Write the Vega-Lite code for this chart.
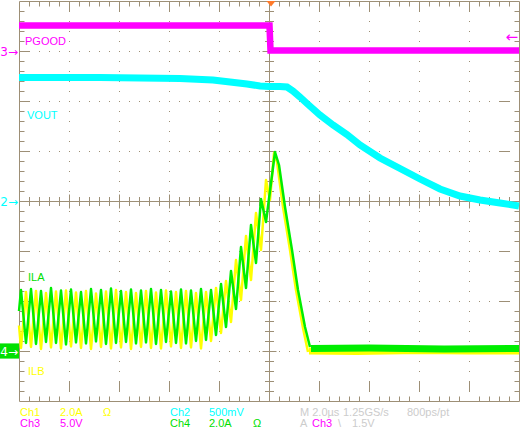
{
  "$schema": "https://vega.github.io/schema/vega-lite/v6.json",
  "width": 500,
  "height": 400,
  "autosize": {"type": "none"},
  "padding": {"left": 19, "top": 1, "right": 3, "bottom": 27},
  "background": "white",
  "config": {
    "view": {"stroke": null},
    "axis": {"gridColor": "#9D8F76", "gridOpacity": 1, "gridWidth": 1}
  },
  "datasets": {
    "ilb": [
      {"t": -10, "v": -2.49, "phase": "switching"},
      {"t": -9.92, "v": -2.94, "phase": "switching"},
      {"t": -9.72, "v": -1.82, "phase": "switching"},
      {"t": -9.52, "v": -2.92, "phase": "switching"},
      {"t": -9.32, "v": -1.80, "phase": "switching"},
      {"t": -9.12, "v": -2.96, "phase": "switching"},
      {"t": -8.92, "v": -1.84, "phase": "switching"},
      {"t": -8.72, "v": -2.93, "phase": "switching"},
      {"t": -8.52, "v": -1.81, "phase": "switching"},
      {"t": -8.32, "v": -2.95, "phase": "switching"},
      {"t": -8.12, "v": -1.79, "phase": "switching"},
      {"t": -7.92, "v": -2.91, "phase": "switching"},
      {"t": -7.72, "v": -1.83, "phase": "switching"},
      {"t": -7.52, "v": -2.94, "phase": "switching"},
      {"t": -7.32, "v": -1.80, "phase": "switching"},
      {"t": -7.12, "v": -2.96, "phase": "switching"},
      {"t": -6.92, "v": -1.85, "phase": "switching"},
      {"t": -6.72, "v": -2.92, "phase": "switching"},
      {"t": -6.52, "v": -1.81, "phase": "switching"},
      {"t": -6.32, "v": -2.95, "phase": "switching"},
      {"t": -6.12, "v": -1.78, "phase": "switching"},
      {"t": -5.92, "v": -2.93, "phase": "switching"},
      {"t": -5.72, "v": -1.82, "phase": "switching"},
      {"t": -5.52, "v": -2.96, "phase": "switching"},
      {"t": -5.32, "v": -1.84, "phase": "switching"},
      {"t": -5.12, "v": -2.92, "phase": "switching"},
      {"t": -4.92, "v": -1.80, "phase": "switching"},
      {"t": -4.72, "v": -2.94, "phase": "switching"},
      {"t": -4.52, "v": -1.83, "phase": "switching"},
      {"t": -4.32, "v": -2.95, "phase": "switching"},
      {"t": -4.12, "v": -1.79, "phase": "switching"},
      {"t": -3.92, "v": -2.91, "phase": "switching"},
      {"t": -3.72, "v": -1.82, "phase": "switching"},
      {"t": -3.52, "v": -2.94, "phase": "switching"},
      {"t": -3.32, "v": -1.80, "phase": "switching"},
      {"t": -3.12, "v": -2.93, "phase": "switching"},
      {"t": -2.92, "v": -1.84, "phase": "switching"},
      {"t": -2.72, "v": -2.95, "phase": "switching"},
      {"t": -2.52, "v": -1.82, "phase": "switching"},
      {"t": -2.32, "v": -2.80, "phase": "switching"},
      {"t": -2.12, "v": -1.74, "phase": "switching"},
      {"t": -1.92, "v": -2.64, "phase": "switching"},
      {"t": -1.72, "v": -1.60, "phase": "switching"},
      {"t": -1.52, "v": -2.42, "phase": "switching"},
      {"t": -1.32, "v": -1.18, "phase": "switching"},
      {"t": -1.12, "v": -1.98, "phase": "switching"},
      {"t": -0.92, "v": -0.70, "phase": "switching"},
      {"t": -0.72, "v": -1.58, "phase": "switching"},
      {"t": -0.52, "v": -0.24, "phase": "switching"},
      {"t": -0.32, "v": -0.98, "phase": "switching"},
      {"t": -0.12, "v": 0.42, "phase": "switching"},
      {"t": 0.04, "v": 0.02, "phase": "switching"},
      {"t": 0.20, "v": 0.96, "phase": "switching"},
      {"t": 0.32, "v": 0.78, "phase": "switching"},
      {"t": 0.56, "v": -0.12, "phase": "switching"},
      {"t": 0.84, "v": -0.98, "phase": "switching"},
      {"t": 1.08, "v": -1.78, "phase": "switching"},
      {"t": 1.36, "v": -2.54, "phase": "switching"},
      {"t": 1.56, "v": -3.02, "phase": "switching"},
      {"t": 1.60, "v": -3.00, "phase": "off"},
      {"t": 3.5, "v": -3.01, "phase": "off"},
      {"t": 6.0, "v": -2.99, "phase": "off"},
      {"t": 8.0, "v": -3.00, "phase": "off"},
      {"t": 10, "v": -3.00, "phase": "off"}
    ],
    "ila": [
      {"t": -10, "v": -2.20, "phase": "switching"},
      {"t": -9.92, "v": -1.78, "phase": "switching"},
      {"t": -9.72, "v": -2.84, "phase": "switching"},
      {"t": -9.52, "v": -1.76, "phase": "switching"},
      {"t": -9.32, "v": -2.86, "phase": "switching"},
      {"t": -9.12, "v": -1.80, "phase": "switching"},
      {"t": -8.92, "v": -2.82, "phase": "switching"},
      {"t": -8.72, "v": -1.74, "phase": "switching"},
      {"t": -8.52, "v": -2.84, "phase": "switching"},
      {"t": -8.32, "v": -1.79, "phase": "switching"},
      {"t": -8.12, "v": -2.87, "phase": "switching"},
      {"t": -7.92, "v": -1.77, "phase": "switching"},
      {"t": -7.72, "v": -2.83, "phase": "switching"},
      {"t": -7.52, "v": -1.82, "phase": "switching"},
      {"t": -7.32, "v": -2.85, "phase": "switching"},
      {"t": -7.12, "v": -1.76, "phase": "switching"},
      {"t": -6.92, "v": -2.81, "phase": "switching"},
      {"t": -6.72, "v": -1.78, "phase": "switching"},
      {"t": -6.52, "v": -2.86, "phase": "switching"},
      {"t": -6.32, "v": -1.75, "phase": "switching"},
      {"t": -6.12, "v": -2.84, "phase": "switching"},
      {"t": -5.92, "v": -1.80, "phase": "switching"},
      {"t": -5.72, "v": -2.82, "phase": "switching"},
      {"t": -5.52, "v": -1.77, "phase": "switching"},
      {"t": -5.32, "v": -2.85, "phase": "switching"},
      {"t": -5.12, "v": -1.79, "phase": "switching"},
      {"t": -4.92, "v": -2.83, "phase": "switching"},
      {"t": -4.72, "v": -1.76, "phase": "switching"},
      {"t": -4.52, "v": -2.86, "phase": "switching"},
      {"t": -4.32, "v": -1.78, "phase": "switching"},
      {"t": -4.12, "v": -2.82, "phase": "switching"},
      {"t": -3.92, "v": -1.81, "phase": "switching"},
      {"t": -3.72, "v": -2.84, "phase": "switching"},
      {"t": -3.52, "v": -1.77, "phase": "switching"},
      {"t": -3.32, "v": -2.85, "phase": "switching"},
      {"t": -3.12, "v": -1.79, "phase": "switching"},
      {"t": -2.92, "v": -2.80, "phase": "switching"},
      {"t": -2.72, "v": -1.76, "phase": "switching"},
      {"t": -2.52, "v": -2.78, "phase": "switching"},
      {"t": -2.32, "v": -1.78, "phase": "switching"},
      {"t": -2.12, "v": -2.68, "phase": "switching"},
      {"t": -1.92, "v": -1.66, "phase": "switching"},
      {"t": -1.72, "v": -2.52, "phase": "switching"},
      {"t": -1.52, "v": -1.40, "phase": "switching"},
      {"t": -1.32, "v": -2.16, "phase": "switching"},
      {"t": -1.12, "v": -0.92, "phase": "switching"},
      {"t": -0.92, "v": -1.74, "phase": "switching"},
      {"t": -0.72, "v": -0.48, "phase": "switching"},
      {"t": -0.52, "v": -1.24, "phase": "switching"},
      {"t": -0.32, "v": 0.04, "phase": "switching"},
      {"t": -0.12, "v": -0.42, "phase": "switching"},
      {"t": 0.24, "v": 0.98, "phase": "switching"},
      {"t": 0.40, "v": 0.72, "phase": "switching"},
      {"t": 0.64, "v": -0.12, "phase": "switching"},
      {"t": 0.92, "v": -0.98, "phase": "switching"},
      {"t": 1.16, "v": -1.78, "phase": "switching"},
      {"t": 1.44, "v": -2.52, "phase": "switching"},
      {"t": 1.64, "v": -2.92, "phase": "switching"},
      {"t": 1.68, "v": -2.95, "phase": "off"},
      {"t": 4.0, "v": -2.94, "phase": "off"},
      {"t": 7.0, "v": -2.96, "phase": "off"},
      {"t": 10, "v": -2.95, "phase": "off"}
    ],
    "vout": [
      {"t": -10, "v": 2.47}, {"t": -6.76, "v": 2.47}, {"t": -3.56, "v": 2.45},
      {"t": -2.24, "v": 2.42}, {"t": -1.56, "v": 2.38}, {"t": -0.88, "v": 2.34},
      {"t": -0.36, "v": 2.30}, {"t": 0, "v": 2.29}, {"t": 0.44, "v": 2.29},
      {"t": 0.72, "v": 2.28}, {"t": 0.96, "v": 2.20}, {"t": 1.24, "v": 2.08},
      {"t": 1.52, "v": 1.95}, {"t": 2.04, "v": 1.72}, {"t": 2.56, "v": 1.52},
      {"t": 3.12, "v": 1.33}, {"t": 3.64, "v": 1.12}, {"t": 4.44, "v": 0.86},
      {"t": 5.24, "v": 0.65}, {"t": 6.04, "v": 0.44}, {"t": 6.84, "v": 0.24},
      {"t": 7.64, "v": 0.10}, {"t": 8.44, "v": 0.02}, {"t": 9.24, "v": -0.04},
      {"t": 10, "v": -0.10}
    ],
    "pgood": [
      {"t": -10, "v": 3.51}, {"t": 0.02, "v": 3.51}, {"t": 0.06, "v": 3.01}, {"t": 10, "v": 3.01}
    ],
    "labels": [
      {"t": -9.76, "v": 3.12, "text": "PGOOD", "ch": "Ch3"},
      {"t": -9.68, "v": 1.64, "text": "VOUT", "ch": "Ch2"},
      {"t": -9.64, "v": -1.60, "text": "ILA", "ch": "Ch4"},
      {"t": -9.64, "v": -3.48, "text": "ILB", "ch": "Ch1"}
    ],
    "footer": [
      {"t": -9.96, "v": -4.29, "text": "Ch1", "ch": "Ch1"},
      {"t": -8.36, "v": -4.29, "text": "2.0A", "ch": "Ch1"},
      {"t": -6.64, "v": -4.29, "text": "Ω", "ch": "Ch1"},
      {"t": -3.96, "v": -4.29, "text": "Ch2", "ch": "Ch2"},
      {"t": -2.40, "v": -4.29, "text": "500mV", "ch": "Ch2"},
      {"t": 1.24, "v": -4.29, "text": "M 2.0µs", "ch": "info"},
      {"t": 2.96, "v": -4.29, "text": "1.25GS/s", "ch": "info"},
      {"t": 5.52, "v": -4.29, "text": "800ps/pt", "ch": "info"},
      {"t": -9.96, "v": -4.51, "text": "Ch3", "ch": "Ch3"},
      {"t": -8.36, "v": -4.51, "text": "5.0V", "ch": "Ch3"},
      {"t": -3.96, "v": -4.51, "text": "Ch4", "ch": "Ch4"},
      {"t": -2.40, "v": -4.51, "text": "2.0A", "ch": "Ch4"},
      {"t": -0.64, "v": -4.51, "text": "Ω", "ch": "Ch4"},
      {"t": 1.24, "v": -4.51, "text": "A", "ch": "info"},
      {"t": 1.72, "v": -4.51, "text": "Ch3", "ch": "Ch3"},
      {"t": 2.76, "v": -4.51, "text": "\\", "ch": "info"},
      {"t": 3.32, "v": -4.51, "text": "1.5V", "ch": "info"}
    ],
    "grounds": [
      {"t": -10, "v": 3, "text": "3→", "ch": "Ch3"},
      {"t": -10, "v": 0, "text": "2→", "ch": "Ch2"}
    ],
    "ch4ground": [
      {"t": -10, "v": -3, "text": "4→", "ch": "Ch4"}
    ],
    "trigger": [
      {"t": 10, "v": 3.3, "text": "←", "ch": "Ch3"}
    ],
    "trigpos": [
      {"t": 0.08, "v": 4}
    ]
  },
  "layer": [
    {
      "data": {"name": "ilb"},
      "mark": {"type": "line", "color": "#FFFF00", "strokeJoin": "round"},
      "encoding": {
        "x": {"field": "t", "type": "quantitative", "scale": {"domain": [-10, 10], "nice": false, "zero": false},
          "axis": {"orient": "bottom", "title": null, "labels": false, "ticks": false, "domain": false, "grid": true,
            "values": [-9.6,-9.2,-8.8,-8.4,-7.6,-7.2,-6.8,-6.4,-5.6,-5.2,-4.8,-4.4,-3.6,-3.2,-2.8,-2.4,-1.6,-1.2,-0.8,-0.4,0.4,0.8,1.2,1.6,2.4,2.8,3.2,3.6,4.4,4.8,5.2,5.6,6.4,6.8,7.2,7.6,8.4,8.8,9.2,9.6],
            "gridDash": [5,44.5,1,49,1,49,1,45,9,45,1,49,1,49,1,44.5,5]}},
        "y": {"field": "v", "type": "quantitative", "scale": {"domain": [-4, 4], "nice": false, "zero": false},
          "axis": {"orient": "left", "title": null, "labels": false, "ticks": false, "domain": false, "grid": true,
            "values": [-3.8,-3.6,-3.4,-3.2,-2.8,-2.6,-2.4,-2.2,-1.8,-1.6,-1.4,-1.2,-0.8,-0.6,-0.4,-0.2,0.2,0.4,0.6,0.8,1.2,1.4,1.6,1.8,2.2,2.4,2.6,2.8,3.2,3.4,3.6,3.8],
            "gridDash": [5,44.5,1,49,1,49,1,49,1,45,9,45,1,49,1,49,1,49,1,44.5,5]}},
        "strokeWidth": {"field": "phase", "type": "nominal", "scale": {"domain": ["switching", "off"], "range": [2.5, 7]}, "legend": null}
      }
    },
    {
      "data": {"name": "ila"},
      "mark": {"type": "line", "color": "#00EE00", "strokeJoin": "round"},
      "encoding": {
        "x": {"field": "t", "type": "quantitative",
          "axis": {"orient": "bottom", "title": null, "labels": false, "ticks": false, "domain": false, "grid": true,
            "values": [-8,-6,-4,-2,2,4,6,8],
            "gridDash": [10.5,9,1,9,1,9,1,9,1,9,1,9,1,9,1,9,1,9,1,9,1,9,1,9,1,9,1,9,1,9,1,9,1,9,1,9,1,2.5,14,2.5,1,9,1,9,1,9,1,9,1,9,1,9,1,9,1,9,1,9,1,9,1,9,1,9,1,9,1,9,1,9,1,9,1,9,10.5]}},
        "y": {"field": "v", "type": "quantitative",
          "axis": {"orient": "left", "title": null, "labels": false, "ticks": false, "domain": false, "grid": true,
            "values": [-3,-2,-1,1,2,3],
            "gridDash": [10.5,9,1,9,1,9,1,9,1,9,1,9,1,9,1,9,1,9,1,9,1,9,1,9,1,9,1,9,1,9,1,9,1,9,1,9,1,9,1,9,1,9,1,9,1,9,1,2.5,14,2.5,1,9,1,9,1,9,1,9,1,9,1,9,1,9,1,9,1,9,1,9,1,9,1,9,1,9,1,9,1,9,1,9,1,9,1,9,1,9,1,9,1,9,1,9,10.5]}},
        "strokeWidth": {"field": "phase", "type": "nominal", "legend": null}
      }
    },
    {
      "data": {"name": "vout"},
      "mark": {"type": "line", "color": "#00FFFF", "strokeWidth": 7},
      "encoding": {
        "x": {"field": "t", "type": "quantitative",
          "axis": {"orient": "bottom", "title": null, "labels": false, "ticks": false, "domain": false, "grid": true,
            "values": [-10, 0, 10], "gridDash": []}},
        "y": {"field": "v", "type": "quantitative",
          "axis": {"orient": "left", "title": null, "labels": false, "ticks": false, "domain": false, "grid": true,
            "values": [-4, 0, 4], "gridDash": []}}
      }
    },
    {
      "data": {"name": "pgood"},
      "mark": {"type": "line", "color": "#FF00FF", "strokeWidth": 6.5},
      "encoding": {
        "x": {"field": "t", "type": "quantitative", "axis": null},
        "y": {"field": "v", "type": "quantitative", "axis": null}
      }
    },
    {
      "data": {"name": "labels"},
      "mark": {"type": "text", "align": "left", "baseline": "alphabetic", "fontSize": 11, "font": "Liberation Sans Narrow, Arial Narrow, Liberation Sans, sans-serif"},
      "encoding": {
        "x": {"field": "t", "type": "quantitative", "axis": null},
        "y": {"field": "v", "type": "quantitative", "axis": null},
        "text": {"field": "text"},
        "color": {"field": "ch", "type": "nominal", "legend": null,
          "scale": {"domain": ["Ch1", "Ch2", "Ch3", "Ch4", "info"], "range": ["#FFFF00", "#00FFFF", "#FF00FF", "#00E000", "#CCCCCC"]}}
      }
    },
    {
      "data": {"name": "footer"},
      "mark": {"type": "text", "align": "left", "baseline": "alphabetic", "fontSize": 11, "font": "Liberation Sans Narrow, Arial Narrow, Liberation Sans, sans-serif"},
      "encoding": {
        "x": {"field": "t", "type": "quantitative", "axis": null},
        "y": {"field": "v", "type": "quantitative", "axis": null},
        "text": {"field": "text"},
        "color": {"field": "ch", "type": "nominal", "legend": null}
      }
    },
    {
      "data": {"name": "grounds"},
      "mark": {"type": "text", "align": "right", "baseline": "middle", "dx": -1, "dy": 1, "fontSize": 12, "font": "DejaVu Sans, sans-serif"},
      "encoding": {
        "x": {"field": "t", "type": "quantitative", "axis": null},
        "y": {"field": "v", "type": "quantitative", "axis": null},
        "text": {"field": "text"},
        "color": {"field": "ch", "type": "nominal", "legend": null}
      }
    },
    {
      "data": {"name": "ch4ground"},
      "mark": {"type": "point", "shape": "M-1,-0.4H0V0.4H-1Z", "size": 1444, "filled": true, "opacity": 1, "color": "#00E000"},
      "encoding": {
        "x": {"field": "t", "type": "quantitative", "axis": null},
        "y": {"field": "v", "type": "quantitative", "axis": null}
      }
    },
    {
      "data": {"name": "ch4ground"},
      "mark": {"type": "text", "align": "right", "baseline": "middle", "dx": -1, "dy": 1, "fontSize": 12, "color": "white", "font": "DejaVu Sans, sans-serif"},
      "encoding": {
        "x": {"field": "t", "type": "quantitative", "axis": null},
        "y": {"field": "v", "type": "quantitative", "axis": null},
        "text": {"field": "text"}
      }
    },
    {
      "data": {"name": "trigger"},
      "mark": {"type": "text", "align": "right", "baseline": "middle", "dx": -1, "dy": 1, "fontSize": 15, "font": "DejaVu Sans, sans-serif"},
      "encoding": {
        "x": {"field": "t", "type": "quantitative", "axis": null},
        "y": {"field": "v", "type": "quantitative", "axis": null},
        "text": {"field": "text"},
        "color": {"field": "ch", "type": "nominal", "legend": null}
      }
    },
    {
      "data": {"name": "trigpos"},
      "mark": {"type": "point", "shape": "M-1,0L1,0L0,1.2Z", "size": 81, "filled": true, "opacity": 1, "color": "#FF7A2A"},
      "encoding": {
        "x": {"field": "t", "type": "quantitative", "axis": null},
        "y": {"field": "v", "type": "quantitative", "axis": null}
      }
    }
  ],
  "resolve": {"axis": {"x": "independent", "y": "independent"}}
}
